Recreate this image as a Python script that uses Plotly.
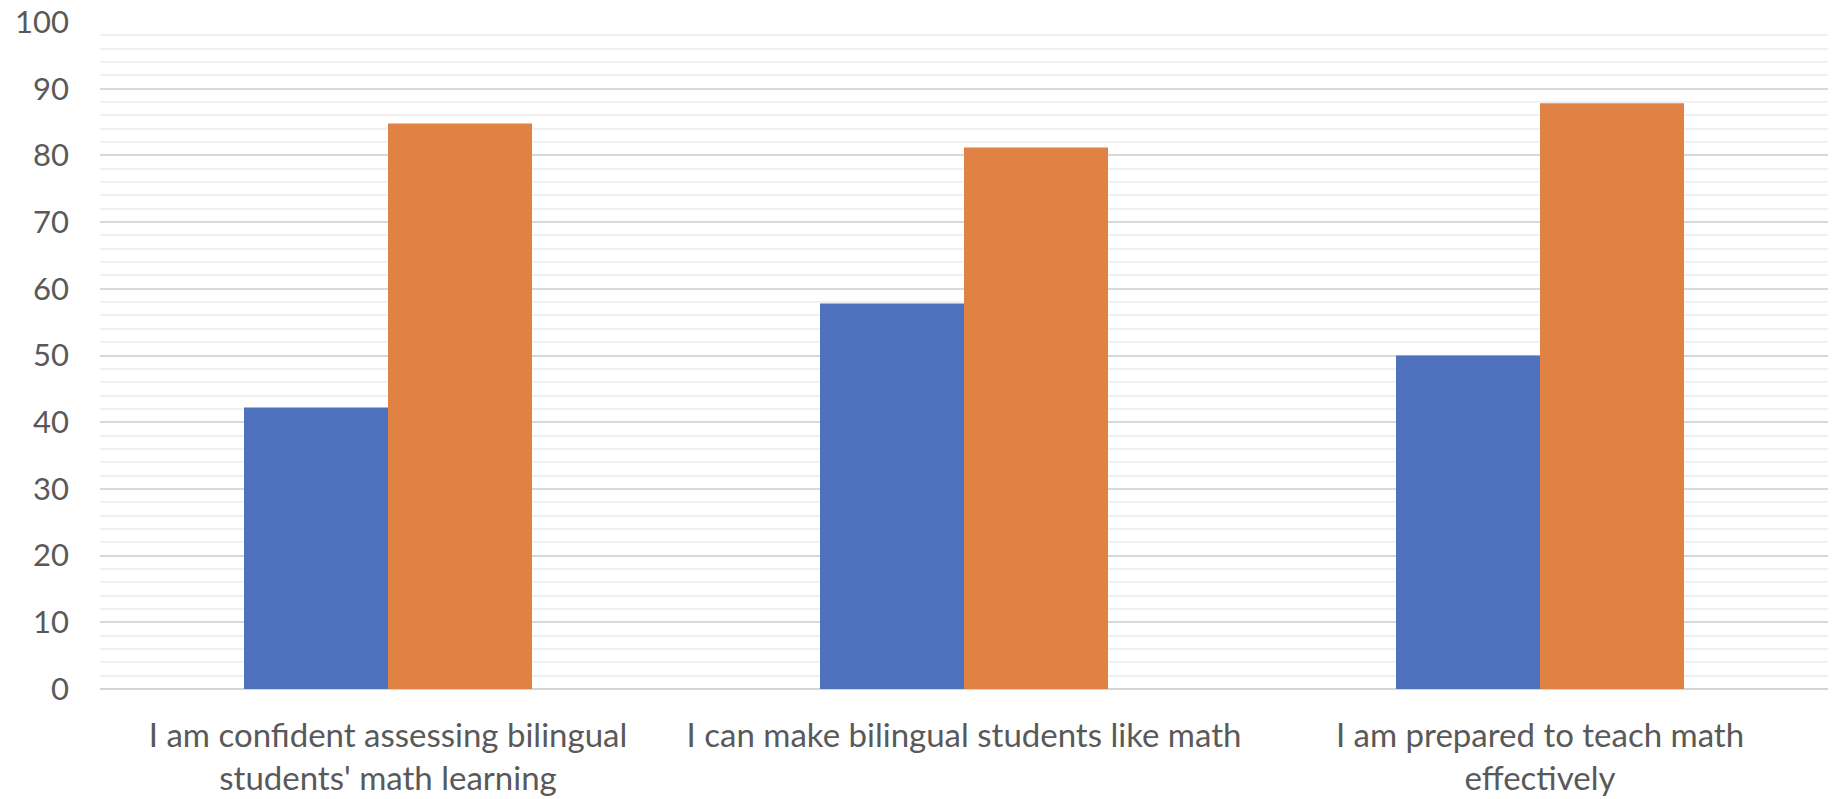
import plotly.graph_objects as go

categories = [
    "I am confident assessing bilingual<br>students' math learning",
    "I can make bilingual students like math",
    "I am prepared to teach math<br>effectively",
]
series_blue = [42.2, 57.8, 50.0]
series_orange = [84.8, 81.2, 87.8]
y_ticks = [0, 10, 20, 30, 40, 50, 60, 70, 80, 90, 100]

FONT = "Lato, 'Liberation Sans', Arial, sans-serif"
TEXT = "#595959"

fig = go.Figure()
fig.add_trace(go.Bar(x=categories, y=series_blue, name="Series 1",
                     marker=dict(color="#4E72BD", line=dict(width=0))))
fig.add_trace(go.Bar(x=categories, y=series_orange, name="Series 2",
                     marker=dict(color="#DF8244", line=dict(width=0))))

fig.update_layout(
    width=1837, height=799,
    margin=dict(l=100, r=9, t=22, b=110, autoexpand=False),
    paper_bgcolor="white", plot_bgcolor="white",
    barmode="group", bargap=0.5, bargroupgap=0,
    showlegend=False,
    font=dict(family=FONT, color=TEXT),
)
fig.update_yaxes(
    range=[0, 100], tickvals=y_ticks, ticktext=[str(v) for v in y_ticks],
    automargin=False,
    showgrid=True, gridcolor="#d9d9d9", gridwidth=2,
    minor=dict(dtick=2, showgrid=True, gridcolor="#f0f0f0", gridwidth=2),
    zeroline=True, zerolinecolor="#d4d4d4", zerolinewidth=2,
    ticks="", ticklabelstandoff=30,
    tickfont=dict(family=FONT, size=31, color=TEXT),
    showline=False,
)
fig.update_xaxes(
    automargin=False,
    showgrid=False, ticks="", ticklabelstandoff=24,
    tickfont=dict(family=FONT, size=33, color=TEXT),
    showline=False,
)

fig.write_html("out.html")
